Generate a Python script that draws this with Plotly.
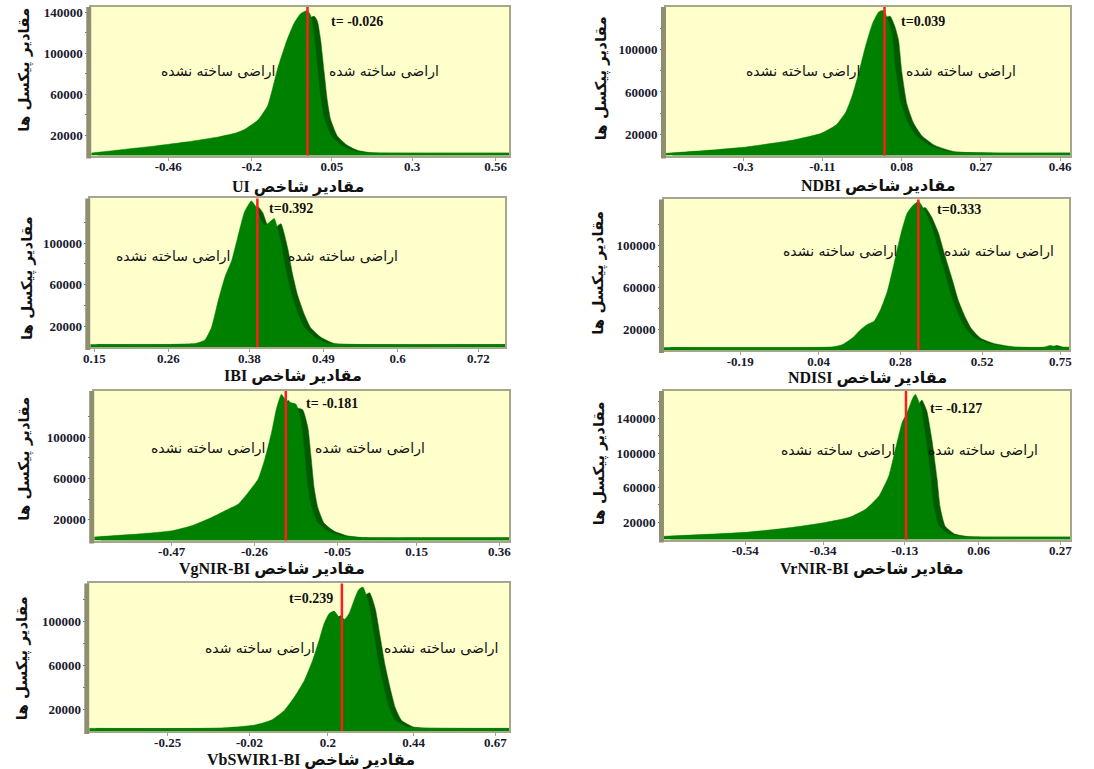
import plotly.graph_objects as go

# ---------------- data ----------------
UI_x = [-0.70, -0.60, -0.50, -0.40, -0.30, -0.25, -0.22, -0.18, -0.15, -0.12, -0.09, -0.067, -0.047,
        -0.026, -0.016, -0.006, 0.005, 0.015, 0.025, 0.046, 0.077, 0.108, 0.15, 0.30, 0.45, 0.60]
UI_y = [2500, 6000, 9500, 13500, 18500, 22000, 26000, 35000, 49000, 84000, 113000, 130000, 139000,
        142000, 137000, 118000, 85000, 56000, 37000, 20000, 10500, 5500, 3000, 2500, 2500, 2500]

NDBI_x = [-0.485, -0.40, -0.30, -0.18, -0.113, -0.077, -0.054, -0.038, -0.022, -0.006, 0.010, 0.025,
          0.037, 0.049, 0.057, 0.065, 0.077, 0.093, 0.113, 0.144, 0.192, 0.30, 0.484]
NDBI_y = [2200, 4500, 7800, 14700, 21000, 29000, 41000, 57000, 79000, 104000, 124500, 135500,
          137000, 126000, 113500, 82000, 50800, 32000, 19500, 10000, 3800, 2500, 2500]

IBI_x = [0.144, 0.25, 0.30, 0.314, 0.324, 0.334, 0.344, 0.354, 0.363, 0.373, 0.383, 0.390, 0.397,
         0.403, 0.410, 0.417, 0.427, 0.434, 0.442, 0.452, 0.461, 0.476, 0.496, 0.55, 0.76]
IBI_y = [2500, 2500, 3500, 6800, 19000, 45000, 67600, 83500, 106000, 130000, 140500, 134700, 121900,
         117000, 120000, 123500, 99500, 74000, 51600, 32400, 19600, 10000, 3600, 2500, 2500]

NDISI_x = [-0.414, 0.0, 0.08, 0.111, 0.140, 0.164, 0.183, 0.203, 0.222, 0.242, 0.261, 0.281, 0.300,
           0.319, 0.334, 0.353, 0.373, 0.392, 0.412, 0.431, 0.450, 0.470, 0.497, 0.538, 0.60, 0.70,
           0.721, 0.74, 0.776]
NDISI_y = [2500, 2500, 3000, 5400, 11700, 19700, 24500, 27600, 38700, 56200, 81600, 110000, 130700,
           138700, 141800, 132300, 116400, 94000, 72000, 49800, 34000, 21200, 11700, 6400, 3000, 2800,
           4500, 2800, 2800]

VgNIR_x = [-0.666, -0.55, -0.468, -0.418, -0.368, -0.326, -0.301, -0.276, -0.251, -0.234, -0.217,
           -0.205, -0.192, -0.180, -0.167, -0.155, -0.142, -0.134, -0.126, -0.117, -0.101, -0.076,
           -0.042, 0.0, 0.2, 0.385]
VgNIR_y = [3500, 6500, 9600, 14500, 22500, 30500, 35400, 46600, 59500, 78800, 104400,
           127000, 141400, 135000, 133300, 131800, 114000, 85100, 53000, 33700, 17600, 9600,
           4800, 3000, 2800, 2800]

VrNIR_x = [-0.749, -0.54, -0.417, -0.332, -0.273, -0.230, -0.196, -0.171, -0.154, -0.137, -0.124,
           -0.111, -0.103, -0.090, -0.077, -0.064, -0.056, -0.043, -0.018, 0.02, 0.15, 0.295]
VrNIR_y = [3800, 8400, 14200, 20000, 25700, 35400, 50700, 73800, 104600, 135200, 146800,
           162200, 168000, 154500, 119900, 73800, 39200, 16100, 6600, 3500, 3000, 3000]

VbSWIR_x = [-0.47, -0.10, -0.005, 0.041, 0.078, 0.106, 0.134, 0.157, 0.175, 0.189, 0.203, 0.217,
            0.231, 0.245, 0.259, 0.273, 0.286, 0.298, 0.314, 0.328, 0.342, 0.356, 0.370, 0.388,
            0.421, 0.46, 0.709]
VbSWIR_y = [2500, 2800, 5500, 10000, 19100, 31200, 46400, 64500, 82700, 97900, 107000, 109400,
            103900, 101500, 107000, 119100, 128800, 131200, 116000, 88800, 61500, 40300, 22100, 10000,
            3900, 2800, 2500]

index_names = ["UI", "NDBI", "IBI", "NDISI", "VgNIR-BI", "VrNIR-BI", "VbSWIR1-BI"]
thresholds = [-0.026, 0.039, 0.392, 0.333, -0.181, -0.127, 0.239]
threshold_labels = ["t= -0.026", "t=0.039", "t=0.392", "t=0.333", "t= -0.181", "t= -0.127", "t=0.239"]

x_ticks = [
    [-0.46, -0.2, 0.05, 0.3, 0.56],
    [-0.3, -0.11, 0.08, 0.27, 0.46],
    [0.15, 0.26, 0.38, 0.49, 0.6, 0.72],
    [-0.19, 0.04, 0.28, 0.52, 0.75],
    [-0.47, -0.26, -0.05, 0.15, 0.36],
    [-0.54, -0.34, -0.13, 0.06, 0.27],
    [-0.25, -0.02, 0.2, 0.44, 0.67],
]
y_ticks = [
    [20000, 60000, 100000, 140000],
    [20000, 60000, 100000],
    [20000, 60000, 100000],
    [20000, 60000, 100000],
    [20000, 60000, 100000],
    [20000, 60000, 100000, 140000],
    [20000, 60000, 100000],
]
y_minor = [40000, 80000, 120000, 160000]

label_unbuilt = "اراضی ساخته نشده"
label_built = "اراضی ساخته شده"
y_title = "مقادیر پیکسل ها"
x_title_word = "مقادیر شاخص"

series = [(UI_x, UI_y), (NDBI_x, NDBI_y), (IBI_x, IBI_y), (NDISI_x, NDISI_y),
          (VgNIR_x, VgNIR_y), (VrNIR_x, VrNIR_y), (VbSWIR_x, VbSWIR_y)]
left_right = [(label_unbuilt, label_built)] * 6 + [(label_built, label_unbuilt)]

# ---------------- layout (pixel geometry, page coordinates) ----------------
W, H = 1094, 769
# plot area px: x0, x1, y0(top), y1(bottom)
boxes = [(85, 507, 5, 154), (665, 1073, 5, 154), (84, 503, 197, 346), (663, 1072, 198, 349),
         (88, 507, 390, 540), (663, 1073, 390, 539), (83, 507, 583, 731)]
x_ranges = [(-0.70, 0.603), (-0.485, 0.484), (0.144, 0.76), (-0.414, 0.776),
            (-0.666, 0.385), (-0.749, 0.295), (-0.47, 0.709)]
y_max = [145400, 140200, 142800, 143800, 144600, 171800, 134500]
# t-label left x, t y, left label cx, right label cx, labels y,
# x-title cx, x-title y, y-title x, y-title cy
ann_px = [
    (325, 20, 213, 380, 70, 294, 185, 18, 68),
    (900, 20, 803, 963, 70, 880, 184, 600, 77),
    (262, 207, 168, 339, 255, 289, 375, 20, 277),
    (937, 208, 841, 1001, 250, 868, 377, 597, 272),
    (300, 403, 203, 366, 448, 267, 568, 18, 458),
    (930, 408, 839, 985, 450, 873, 568, 598, 463),
    (283, 598, 255, 438, 648, 307, 760, 15, 658),
]

BRIGHT = "#008000"
DARK = "#005a00"
YELLOW = "#FFFFCC"
WALL = "#8f8f70"
EDGE = "#a6a68c"
RED = "#ff1c1c"
SERIF = "Liberation Serif, DejaVu Serif, DejaVu Sans"
ARAB = "DejaVu Sans, Noto Sans"


def px(x):
    return x / W


def py(y):
    return 1 - y / H


fig = go.Figure()
annotations = []
shapes = []
layout_axes = {}

for i, ((xs, ys), box, xr, ym) in enumerate(zip(series, boxes, x_ranges, y_max)):
    n = i + 1
    xa = "x" if n == 1 else f"x{n}"
    ya = "y" if n == 1 else f"y{n}"
    shift = 0.016 * (xr[1] - xr[0])
    fig.add_trace(go.Scatter(
        x=[v + shift for v in xs], y=[v * 0.96 for v in ys], xaxis=xa, yaxis=ya, mode="lines",
        fill="tozeroy", fillcolor=DARK,
        line=dict(color=DARK, width=0.5, shape="spline", smoothing=0.5),
        hoverinfo="skip", showlegend=False))
    fig.add_trace(go.Scatter(
        x=xs, y=ys, xaxis=xa, yaxis=ya, mode="lines",
        fill="tozeroy", fillcolor=BRIGHT,
        line=dict(color=BRIGHT, width=0.5, shape="spline", smoothing=0.5),
        hoverinfo="skip", showlegend=False))

    x0, x1, y0, y1 = box
    layout_axes["xaxis" if n == 1 else f"xaxis{n}"] = dict(
        domain=[px(x0), px(x1)], anchor=ya, range=list(xr),
        tickvals=x_ticks[i], ticktext=[f"{v:g}" for v in x_ticks[i]],
        ticks="outside", ticklen=3, tickcolor=EDGE, ticklabelstandoff=-5,
        tickfont=dict(family=SERIF, size=13, color="#1a1a2e", weight="bold"),
        showgrid=False, zeroline=False, showline=True, linecolor=EDGE, linewidth=2,
        mirror=True, fixedrange=True)
    layout_axes["yaxis" if n == 1 else f"yaxis{n}"] = dict(
        domain=[py(y1), py(y0)], anchor=xa, range=[0, ym],
        tickvals=y_ticks[i], ticktext=[str(v) for v in y_ticks[i]],
        ticks="outside", ticklen=4, tickcolor="#777760",
        minor=dict(tickvals=y_minor, ticks="outside", ticklen=4, tickcolor="#777760"),
        tickfont=dict(family=SERIF, size=13, color="#1a1a2e", weight="bold"),
        showgrid=False, zeroline=False, showline=True, linecolor=EDGE, linewidth=1.5,
        mirror=True, fixedrange=True)

    # 3D-looking left wall
    shapes.append(dict(type="rect", xref="paper", yref="paper",
                       x0=px(x0 - 5), x1=px(x0), y0=py(y1 + 3), y1=py(y0),
                       fillcolor=WALL, line=dict(width=0), layer="above"))
    # threshold line
    shapes.append(dict(type="line", xref=xa, yref=f"{ya} domain",
                       x0=thresholds[i], x1=thresholds[i], y0=0, y1=1,
                       line=dict(color=RED, width=2.5), layer="above"))

    tx, tyy, lcx, rcx, ly, xtx, xty, ytx, yty = ann_px[i]
    annotations.append(dict(xref="paper", yref="paper", x=px(tx), y=py(tyy),
                            xanchor="left", yanchor="middle", showarrow=False,
                            text=threshold_labels[i],
                            font=dict(family=SERIF, size=14, color="#111", weight="bold")))
    lt, rt = left_right[i]
    annotations.append(dict(xref="paper", yref="paper", x=px(lcx), y=py(ly),
                            xanchor="center", yanchor="middle", showarrow=False, text=lt,
                            font=dict(family=ARAB, size=14, color="#111")))
    annotations.append(dict(xref="paper", yref="paper", x=px(rcx), y=py(ly),
                            xanchor="center", yanchor="middle", showarrow=False, text=rt,
                            font=dict(family=ARAB, size=14, color="#111")))
    annotations.append(dict(xref="paper", yref="paper", x=px(xtx), y=py(xty),
                            xanchor="center", yanchor="middle", showarrow=False,
                            text=f"{index_names[i]} {x_title_word}",
                            font=dict(family=SERIF, size=16, color="#111", weight="bold")))
    annotations.append(dict(xref="paper", yref="paper", x=px(ytx), y=py(yty),
                            xanchor="center", yanchor="middle", showarrow=False,
                            text=y_title, textangle=-90,
                            font=dict(family=ARAB, size=15, color="#111", weight="bold")))

fig.update_layout(
    width=W, height=H, margin=dict(l=0, r=0, t=0, b=0),
    paper_bgcolor="white", plot_bgcolor=YELLOW,
    showlegend=False, annotations=annotations, shapes=shapes, **layout_axes)

fig.write_html("out.html", config={"displayModeBar": False},
               post_script="document.body.style.margin='0px';document.body.style.overflow='hidden';")
